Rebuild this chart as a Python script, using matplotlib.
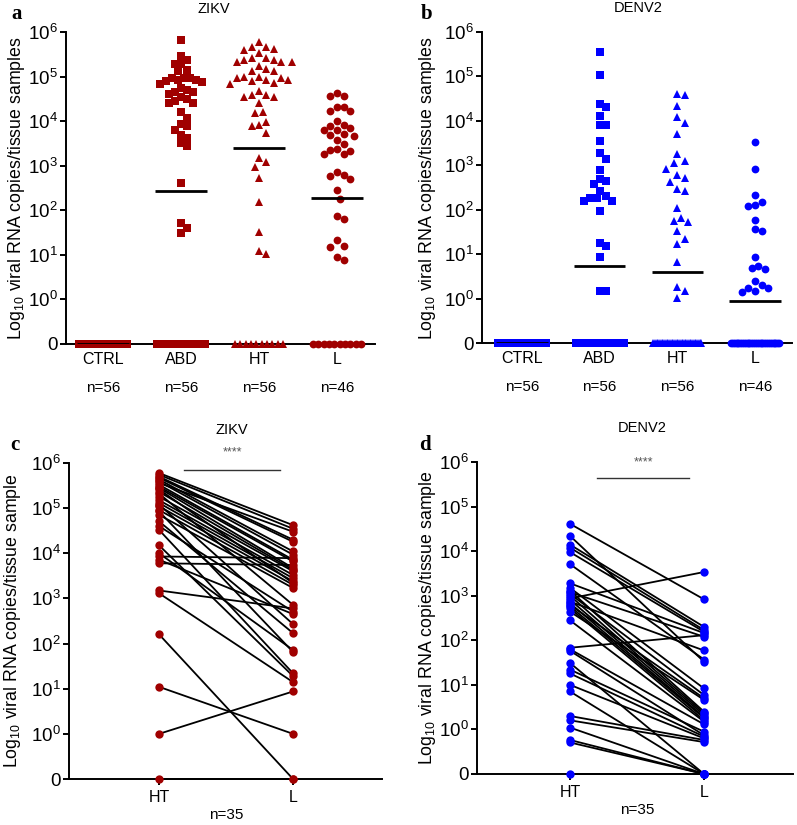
import numpy as np
import matplotlib
matplotlib.use("Agg")
import matplotlib.pyplot as plt
import matplotlib.transforms as mtrans

plt.rcParams['font.family'] = ['Liberation Sans', 'DejaVu Sans']
plt.rcParams['mathtext.fontset'] = 'custom'
plt.rcParams['mathtext.rm'] = 'Liberation Sans'
plt.rcParams['mathtext.it'] = 'Liberation Sans:italic'

RED = '#a00000'
BLUE = '#0000ff'

groups = ['CTRL', 'ABD', 'HT', 'L']
group_n = [56, 56, 56, 46]

# ---- panel a: ZIKV, viral RNA copies per tissue sample (non-zero samples)
zikv_abd = [6.6e5, 2.9e5, 2.3e5, 1.9e5, 1.9e5, 1.4e5, 1.3e5, 9.5e4, 9.1e4, 8.3e4,
            7.4e4, 6.8e4, 7.9e4, 8.3e4, 9.5e4, 5.0e4, 5.5e4, 4.4e4, 4.4e4, 4.1e4,
            3.5e4, 2.8e4, 2.6e4, 2.6e4, 3.2e4, 1.6e4, 1.2e4, 8.7e3, 7.8e3, 6.3e3,
            4.9e3, 4.2e3, 3.2e3, 2.7e3, 4.1e2, 51, 40, 31]
zikv_ht = [5.9e5, 4.5e5, 4.2e5, 3.9e5, 4.5e5, 3.4e5, 2.6e5, 2.3e5, 2.1e5, 2.1e5,
           2.1e5, 2.3e5, 2.6e5, 1.7e5, 1.5e5, 1.3e5, 1.3e5, 1.0e5, 9.1e4, 8.3e4,
           7.1e4, 7.8e4, 8.3e4, 9.1e4, 1.0e5, 6.8e4, 4.8e4, 3.9e4, 3.5e4, 3.4e4,
           3.9e4, 2.6e4, 1.5e4, 1.6e4, 9.8e3, 8.1e3, 7.8e3, 5.4e3, 1.5e3, 1.2e3,
           9.3e2, 5.4e2, 1.5e2, 32, 10.5, 12]
zikv_l = [4.3e4, 3.6e4, 3.6e4, 2.1e4, 1.7e4, 1.7e4, 2.1e4, 1.0e4, 8.1e3, 7.2e3,
          6.2e3, 6.2e3, 7.8e3, 5.1e3, 4.7e3, 3.8e3, 4.9e3, 3.1e3, 2.4e3, 2.1e3,
          1.8e3, 1.8e3, 2.3e3, 6.2e2, 5.0e2, 5.8e2, 7.4e2, 2.8e2, 1.8e2, 63,
          74, 22, 15, 15.5, 7.8, 8.9]
zikv_zeros = [56, 18, 10, 10]
zikv_median = [0, 2.7e2, 2.5e3, 1.9e2]

# ---- panel b: DENV2
denv_abd = [3.6e5, 1.05e5, 2.4e4, 2.0e4, 1.3e4, 8.1e3, 8.1e3, 3.5e3, 1.9e3, 1.4e3,
            7.9e2, 5.0e2, 4.4e2, 3.8e2, 2.7e2, 2.0e2, 1.8e2, 1.6e2, 1.6e2, 1.8e2,
            95, 15.5, 18, 8.5, 1.5, 1.5]
denv_ht = [3.9e4, 4.1e4, 2.2e4, 8.9e3, 1.2e4, 5.0e3, 1.8e3, 1.1e3, 1.26e3, 8.3e2,
           6.2e2, 5.1e2, 4.2e2, 2.9e2, 2.6e2, 1.07e2, 66, 56, 54, 33,
           22, 17, 6.6, 1.86, 1.5, 1.05]
denv_l = [3.3e3, 8.3e2, 1.5e2, 1.2e2, 1.3e2, 2.1e2, 59, 33, 37, 8.5,
          5.5, 4.6, 4.8, 2.0, 1.7, 1.4, 1.5, 1.7, 2.5]
denv_zeros = [56, 30, 30, 27]
denv_median = [0, 5.5, 3.9, 0.9]

# ---- panel c: ZIKV paired HT / L (n=35)
zikv_pair_ht = [6.0e5, 5.5e5, 5.0e5, 4.7e5, 4.3e5, 3.9e5, 3.6e5, 3.3e5, 3.0e5, 2.8e5,
                2.6e5, 2.3e5, 2.1e5, 1.8e5, 1.5e5, 1.3e5, 1.2e5, 1.1e5, 9.1e4, 8.5e4,
                7.1e4, 5.1e4, 4.0e4, 3.3e4, 1.5e4, 1.0e4, 8.5e3, 7.2e3, 6.0e3, 1.5e3,
                1.3e3, 1.6e2, 11, 1.0, 0]
zikv_pair_l = [4.2e4, 3.5e4, 2.0e4, 1.8e4, 1.1e4, 9.3e3, 3.0e4, 7.2e3, 6.6e3, 4.7e3,
               2.2e3, 4.3e3, 7.2e2, 4.0e3, 3.3e3, 2.8e3, 2.7e2, 2.4e3, 2.0e3, 65,
               1.7e3, 1.7e2, 5.1e2, 22, 19, 72, 7.8e3, 4.5e2, 5.5e3, 6.0e2,
               14, 0, 1.0, 8.7, 0]

# ---- panel d: DENV2 paired HT / L (n=35)
denv_pair_ht = [4.1e4, 2.2e4, 1.4e4, 1.2e4, 9.5e3, 5.1e3, 1.9e3, 1.5e3, 1.3e3, 1.2e3,
                1.1e3, 1.0e3, 8.7e2, 8.1e2, 7.4e2, 6.8e2, 6.2e2, 5.8e2, 5.2e2, 4.4e2,
                2.8e2, 68, 63, 58, 31, 22, 18, 10, 7.1, 2.0,
                1.6, 1.1, 0.58, 0.51, 0]
denv_pair_l = [8.3e2, 33, 2.0e2, 1.7e2, 1.55e2, 37, 1.45e2, 8.3, 2.5, 1.2e2,
               5.9, 2.3, 3.4e3, 2.1, 59, 1.9, 5.0, 1.8, 1.6, 4.6,
               1.5, 1.3e2, 1.3, 0.74, 0, 0.89, 0.69, 0.63, 0, 0.58,
               0.52, 0, 0, 0, 0]

yticks = [0, 1, 10, 1e2, 1e3, 1e4, 1e5, 1e6]
yticklabels = ['0'] + ['10$^{%d}$' % k for k in range(7)]


# zero gets its own slot one decade below 10^0
def fwd(v):
    v = np.asarray(v, dtype=float)
    with np.errstate(divide='ignore', invalid='ignore'):
        return np.where(v > 0, np.log10(np.where(v > 0, v, 1)) + 1, 0.0)


def inv(y):
    y = np.asarray(y, dtype=float)
    return np.where(y > 0, 10 ** (y - 1), 0.0)


W, H = 797, 825
fig = plt.figure(figsize=(W / 100, H / 100), dpi=100)


def px_axes(left, right, top, bottom):
    return fig.add_axes([left / W, 1 - bottom / H, (right - left) / W, (bottom - top) / H])


def style(ax):
    ax.set_yscale('function', functions=(fwd, inv))
    ax.set_ylim(0, 1e6)
    ax.set_yticks(yticks, labels=yticklabels)
    for s in ['top', 'right']:
        ax.spines[s].set_visible(False)
    for s in ['left', 'bottom']:
        ax.spines[s].set_linewidth(1.4)
    ax.tick_params(axis='y', length=4, width=1.4, pad=2, labelsize=13.5)


def swarm(ax, xc, vals, d_px, ky=0.75):
    # greedy beeswarm in pixel space, a bit more room kept vertically
    vals = np.asarray(vals, dtype=float)
    pts = ax.transData.transform(np.column_stack([np.full(len(vals), xc), vals]))
    x0, ys = pts[0, 0], pts[:, 1]
    cands = [0.0]
    for k in range(1, 60):
        cands += [k * d_px * 0.5, -k * d_px * 0.5]
    placed = []
    xs = np.zeros(len(vals))
    for i in np.argsort(-vals, kind='stable'):
        for off in cands:
            if all((off - px) ** 2 + (ky * (ys[i] - py)) ** 2 >= d_px ** 2
                   for px, py in placed):
                break
        placed.append((off, ys[i]))
        xs[i] = x0 + off
    return ax.transData.inverted().transform(np.column_stack([xs, ys]))[:, 0]


def column_panel(ax, series, zeros, medians, color):
    style(ax)
    ax.set_xticks(range(len(groups)), labels=groups)
    ax.tick_params(axis='x', length=0, pad=6, labelsize=11.5)
    markers = [('s', 5.2), ('s', 5.2), ('^', 6.2), ('o', 5.6)]
    for i, vals in enumerate(series):
        m, ms = markers[i]
        if len(vals):
            xs = swarm(ax, i, vals, ms * 1.18)
            ax.plot(xs, vals, m, color=color, ms=ms, mew=0, ls='none', zorder=3)
        nz = zeros[i]
        ax.plot(i + np.linspace(-0.31, 0.31, nz), np.zeros(nz), m, color=color,
                ms=ms, mew=0, ls='none', zorder=3, clip_on=False)
        ax.hlines(medians[i], i - 0.33, i + 0.33, color='black', lw=2, zorder=4)
    for i, n in enumerate(group_n):
        ax.annotate('n=%d' % n, (i, 0), xytext=(0, -32), textcoords='offset points',
                    ha='center', va='center', fontsize=11, annotation_clip=False)


def pair_panel(ax, ht, lv, color, bar_x, bar_y, star_y):
    style(ax)
    ax.set_xticks([0, 1], labels=['HT', 'L'])
    ax.tick_params(axis='x', length=4, width=1.4, pad=4, labelsize=11.5)
    n = len(ht)
    ax.plot(np.vstack([np.zeros(n), np.ones(n)]), np.vstack([ht, lv]),
            color='black', lw=1.3, zorder=2, clip_on=False)
    ax.plot(np.zeros(n), ht, 'o', color=color, ms=6, mew=0, zorder=3, clip_on=False)
    ax.plot(np.ones(n), lv, 'o', color=color, ms=6, mew=0, zorder=3, clip_on=False)
    tr = mtrans.blended_transform_factory(ax.transData, ax.transAxes)
    ax.plot(bar_x, [bar_y, bar_y], color='#333333', lw=1, transform=tr, clip_on=False)
    ax.text(np.mean(bar_x), star_y, '****', transform=tr, ha='center', va='center',
            fontsize=9, color='#555555')
    ax.annotate('n=%d' % n, (0.5, 0), xytext=(0, -26), textcoords='offset points',
                ha='center', va='center', fontsize=11, annotation_clip=False)


# panel a
ax_a = px_axes(66, 375, 32, 344)
ax_a.set_xlim(-0.474, 3.487)
column_panel(ax_a, [[], zikv_abd, zikv_ht, zikv_l], zikv_zeros, zikv_median, RED)

# panel b
ax_b = px_axes(482, 792, 32, 343)
ax_b.set_xlim(-0.515, 3.476)
column_panel(ax_b, [[], denv_abd, denv_ht, denv_l], denv_zeros, denv_median, BLUE)

# panel c
ax_c = px_axes(69, 382, 463, 779)
ax_c.set_xlim(-0.672, 1.664)
pair_panel(ax_c, zikv_pair_ht, zikv_pair_l, RED, [0.19, 0.90], 0.978, 1.032)

# panel d
ax_d = px_axes(477, 793, 462, 774)
ax_d.set_xlim(-0.694, 1.664)
pair_panel(ax_d, denv_pair_ht, denv_pair_l, BLUE, [0.20, 0.89], 0.95, 0.998)


def ftext(x, y, s, **kw):
    fig.text(x / W, 1 - y / H, s, **kw)


ftext(214, 9, 'ZIKV', ha='center', va='center', fontsize=10.5)
ftext(638, 8, 'DENV2', ha='center', va='center', fontsize=10.5)
ftext(232, 430, 'ZIKV', ha='center', va='center', fontsize=10.5)
ftext(642, 428, 'DENV2', ha='center', va='center', fontsize=10.5)

for x, y, s in [(17, 14, 'a'), (427, 14, 'b'), (15, 445, 'c'), (425, 445, 'd')]:
    ftext(x, y, s, ha='center', va='center', fontsize=15, weight='bold',
          family='Liberation Serif')

ylab_s = 'Log$_{10}$ viral RNA copies/tissue samples'
ylab_p = 'Log$_{10}$ viral RNA copies/tissue sample'
ftext(17, 188, ylab_s, rotation=90, ha='center', va='center', fontsize=12.8)
ftext(428, 188, ylab_s, rotation=90, ha='center', va='center', fontsize=12.8)
ftext(13, 621, ylab_p, rotation=90, ha='center', va='center', fontsize=12.8)
ftext(428, 618, ylab_p, rotation=90, ha='center', va='center', fontsize=12.8)

fig.savefig('out.png', dpi=100)
